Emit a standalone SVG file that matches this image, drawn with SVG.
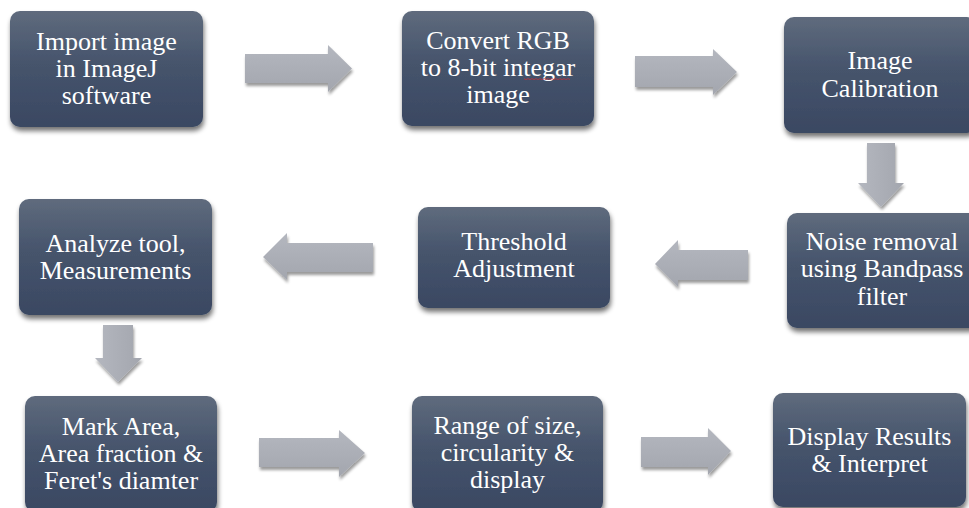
<svg xmlns="http://www.w3.org/2000/svg" width="969" height="508" viewBox="0 0 969 508">
<defs>
<linearGradient id="boxg" x1="0" y1="0" x2="0" y2="1">
<stop offset="0" stop-color="#5f6b7d"/>
<stop offset="0.45" stop-color="#46546c"/>
<stop offset="1" stop-color="#3a4862"/>
</linearGradient>
<linearGradient id="arrg" x1="0" y1="0" x2="0" y2="1">
<stop offset="0" stop-color="#b4b7bf"/>
<stop offset="1" stop-color="#a3a6ae"/>
</linearGradient>
<linearGradient id="arrgv" x1="0" y1="0" x2="1" y2="0">
<stop offset="0" stop-color="#b4b7bf"/>
<stop offset="1" stop-color="#a3a6ae"/>
</linearGradient>
<filter id="sh" x="-10%" y="-10%" width="125%" height="130%">
<feGaussianBlur in="SourceAlpha" stdDeviation="2.5"/>
<feOffset dx="1" dy="4" result="b"/>
<feComponentTransfer><feFuncA type="linear" slope="0.55"/></feComponentTransfer>
<feMerge><feMergeNode/><feMergeNode in="SourceGraphic"/></feMerge>
</filter>
<filter id="ash" x="-15%" y="-20%" width="135%" height="150%">
<feGaussianBlur in="SourceAlpha" stdDeviation="1.8"/>
<feOffset dx="1" dy="3" result="b"/>
<feComponentTransfer><feFuncA type="linear" slope="0.4"/></feComponentTransfer>
<feMerge><feMergeNode/><feMergeNode in="SourceGraphic"/></feMerge>
</filter>
</defs>
<style>
.box{fill:url(#boxg);filter:url(#sh);}
.t{font-family:"Liberation Serif","Times New Roman",serif;font-size:26px;fill:#ffffff;text-anchor:middle;}
.ar{fill:url(#arrg);filter:url(#ash);}
.av{fill:url(#arrgv);filter:url(#ash);}
</style>
<rect width="969" height="508" fill="#ffffff"/>

<g id="connectors">
<path class="ar" d="M245,54 H328 V45 L352,68.5 L328,92 V83 H245 Z"/>
<path class="ar" d="M635,56 H713 V49 L737,72 L713,95 V87 H635 Z"/>
<path class="av" d="M867,143 H895 V183 H904 L881,207 L858,183 H867 Z"/>
<path class="ar" d="M748,250 H678 V240 L655,264 L678,287 V280 H748 Z"/>
<path class="ar" d="M373,243 H287 V233 L263,257 L287,280 V272 H373 Z"/>
<path class="av" d="M103,325 H133 V358 H142 L118,382 L95,358 H103 Z"/>
<path class="ar" d="M259,438 H339 V430 L365,453 L339,477 V467 H259 Z"/>
<path class="ar" d="M641,437 H708 V428 L731,451 L708,475 V467 H641 Z"/>
</g>

<g id="n1">
<rect class="box" x="10" y="11" width="193" height="116" rx="10"/>
<text class="t" x="106.5" y="50">Import image</text>
<text class="t" x="106.5" y="77">in ImageJ</text>
<text class="t" x="106.5" y="104">software</text>
</g>
<g id="n2">
<rect class="box" x="402" y="11" width="192" height="115" rx="10"/>
<text class="t" x="498" y="49">Convert RGB</text>
<text class="t" x="498" y="76">to 8-bit integar</text>
<text class="t" x="498" y="103">image</text>
<path d="M524,78.5 l2,1.2 l2,-1.2 l2,1.2 l2,-1.2 l2,1.2 l2,-1.2 l2,1.2 l2,-1.2 l2,1.2 l2,-1.2 l2,1.2 l2,-1.2 l2,1.2 l2,-1.2 l2,1.2 l2,-1.2 l2,1.2 l2,-1.2 l2,1.2 l2,-1.2 l2,1.2 l2,-1.2 l2,1.2" fill="none" stroke="#c0303a" stroke-width="0.8"/>
</g>
<g id="n3">
<rect class="box" x="784" y="17" width="193" height="116" rx="10"/>
<text class="t" x="880" y="69">Image</text>
<text class="t" x="880" y="97">Calibration</text>
</g>
<g id="n4">
<rect class="box" x="787" y="213" width="192" height="115" rx="10"/>
<text class="t" x="882" y="250">Noise removal</text>
<text class="t" x="882" y="277">using Bandpass</text>
<text class="t" x="882" y="305">filter</text>
</g>
<g id="n5">
<rect class="box" x="418" y="207" width="192" height="101" rx="10"/>
<text class="t" x="514" y="250">Threshold</text>
<text class="t" x="514" y="277">Adjustment</text>
</g>
<g id="n6">
<rect class="box" x="19" y="199" width="193" height="116" rx="10"/>
<text class="t" x="115.5" y="252">Analyze tool,</text>
<text class="t" x="115.5" y="279">Measurements</text>
</g>
<g id="n7">
<rect class="box" x="25" y="396" width="192" height="116" rx="10"/>
<text class="t" x="121" y="435">Mark Area,</text>
<text class="t" x="121" y="462">Area fraction &amp;</text>
<text class="t" x="121" y="489">Feret's diamter</text>
</g>
<g id="n8">
<rect class="box" x="412" y="396" width="191" height="116" rx="10"/>
<text class="t" x="507.5" y="434">Range of size,</text>
<text class="t" x="507.5" y="461">circularity &amp;</text>
<text class="t" x="507.5" y="488">display</text>
</g>
<g id="n9">
<rect class="box" x="773" y="393" width="193" height="114" rx="10"/>
<text class="t" x="869.5" y="445">Display Results</text>
<text class="t" x="869.5" y="472">&amp; Interpret</text>
</g>
</svg>
